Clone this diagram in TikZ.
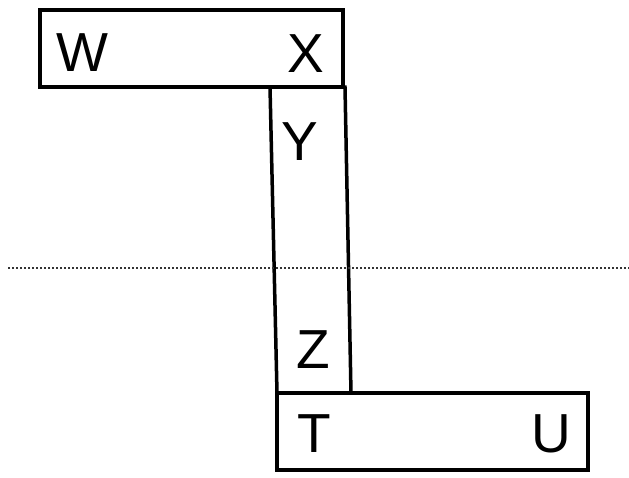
\documentclass[tikz,border=0pt]{standalone}
\usepackage{fontspec}
\setmainfont{Liberation Sans}
\begin{document}
\begin{tikzpicture}[x=1pt,y=-1pt,
  edge/.style={draw=black,line width=3.5pt,line join=miter},
  lbl/.style={font=\fontsize{55}{60}\selectfont,inner sep=0pt,anchor=center},
  guide/.style={draw=black!80,line width=1.6pt,dash pattern=on 1.6pt off 2.4pt}]
\useasboundingbox (0,0) rectangle (629,477);
\draw[edge] (40,10) rectangle (343,87);
\draw[edge] (270,87) -- (345,87) -- (351,393) -- (277,393) -- cycle;
\draw[edge] (277,393) rectangle (588,470);
\draw[guide] (8,268) -- (629,268);
\node[lbl] (w) at (82,53) {W};
\node[lbl] (x) at (306,54) {X};
\node[lbl] (y) at (300,142) {Y};
\node[lbl] (z) at (313,350) {Z};
\node[lbl] (t) at (314,434) {T};
\node[lbl] (u) at (551,434) {U};
\end{tikzpicture}
\end{document}
